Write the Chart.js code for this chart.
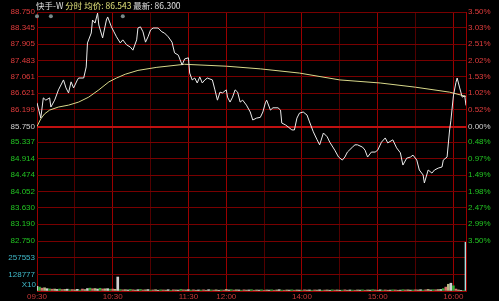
<!DOCTYPE html>
<html>
<head>
<meta charset="utf-8">
<script src="https://cdn.jsdelivr.net/npm/chart.js@4"></script>
<style>
  html, body { margin: 0; padding: 0; background: #000; }
  #wrap { position: relative; width: 499px; height: 301px; overflow: hidden; }
  canvas { position: absolute; left: 0; top: 0; }
  #title { position: absolute; left: 36px; top: -1px; font: 8.5px "Noto Sans CJK SC", sans-serif; line-height: 12px; color: #e0e0e0; white-space: nowrap; }
  #title .y { color: #e0e07a; }
  #x10 { position: absolute; left: 0; width: 36px; top: 280px; text-align: right; font: 8px "Liberation Sans", Arial, sans-serif; color: #40b8c8; }
</style>
</head>
<body>
<div id="wrap">
  <canvas id="vol" width="499" height="301"></canvas>
  <canvas id="price" width="499" height="301"></canvas>
  <div id="title">快手-W <span class="y">分时 均价: 86.543</span> 最新: 86.300</div>
  <div id="x10">X10</div>
</div>
<script>
const preClose = 85.75;
const priceTicks = [88.750, 88.345, 87.905, 87.483, 87.061, 86.621, 86.199, 85.750, 85.337, 84.914, 84.474, 84.052, 83.630, 83.190, 82.750];
const pctLabels = ['3.50%', '3.03%', '2.51%', '2.02%', '1.53%', '1.02%', '0.52%', '0.00%', '0.48%', '0.97%', '1.49%', '1.98%', '2.47%', '2.99%', '3.50%'];

// minutes from 09:30 (lunch break removed)
const gridMinutes = [0, 30, 60, 90, 120, 150, 180, 210, 240, 270, 300, 330, 340];
const hourMinutes = [0, 60, 120, 150, 210, 270, 330, 340];
const timeTicks = [0, 60, 120, 150, 210, 270, 330];
const timeLabels = ['09:30', '10:30', '11:30', '12:00', '14:00', '15:00', '16:00'];

const priceMinutes = [0, 3, 5, 7, 10, 11, 14, 17, 21, 23, 25, 27, 29, 32, 33, 37, 39, 40, 43, 44, 46, 48, 49, 52, 55, 56, 59, 61, 63, 66, 68, 71, 74, 76, 79, 80, 82, 84, 86, 88, 90, 92, 96, 99, 101, 104, 107, 109, 112, 115, 117, 120, 121, 123, 125, 127, 129, 131, 133, 135, 139, 141, 143, 145, 147, 150, 151, 153, 155, 157, 159, 161, 163, 166, 169, 171, 174, 177, 179, 181, 182, 185, 187, 191, 193, 194, 197, 199, 202, 204, 206, 208, 211, 214, 216, 219, 222, 224, 227, 230, 232, 236, 239, 242, 244, 246, 250, 252, 254, 258, 260, 262, 265, 268, 270, 273, 276, 278, 282, 285, 288, 290, 293, 296, 298, 301, 303, 306, 307, 310, 313, 315, 318, 321, 322, 325, 327, 328, 330, 332, 333, 335, 337, 339, 340];
const priceValues = [86.37, 85.97, 86.50, 86.44, 86.50, 86.26, 86.44, 86.71, 86.97, 86.76, 86.63, 86.92, 86.76, 86.97, 87.02, 87.02, 87.31, 87.94, 88.20, 88.54, 88.46, 88.72, 88.41, 88.07, 88.54, 88.62, 88.36, 88.23, 88.10, 87.94, 88.02, 87.89, 87.83, 87.75, 88.02, 88.33, 88.36, 88.23, 87.96, 88.10, 88.28, 88.33, 88.33, 88.23, 88.20, 88.10, 87.96, 87.68, 87.62, 87.36, 87.52, 87.55, 87.15, 86.97, 87.02, 86.89, 87.05, 86.89, 86.97, 87.02, 86.97, 86.71, 86.44, 86.65, 86.63, 86.71, 86.52, 86.39, 86.52, 86.71, 86.65, 86.39, 86.44, 86.31, 86.13, 85.92, 85.97, 85.99, 86.13, 86.37, 86.44, 86.18, 86.24, 86.24, 86.18, 85.84, 85.79, 85.74, 85.66, 85.66, 85.97, 86.10, 86.13, 86.05, 85.87, 85.61, 85.40, 85.27, 85.58, 85.48, 85.34, 85.13, 84.95, 84.87, 84.95, 85.08, 85.21, 85.27, 85.27, 85.21, 85.13, 84.95, 85.08, 85.08, 85.13, 85.34, 85.45, 85.32, 85.40, 85.19, 85.06, 84.74, 84.92, 84.95, 85.00, 84.87, 84.61, 84.48, 84.27, 84.61, 84.53, 84.61, 84.66, 84.69, 84.87, 84.95, 85.66, 85.90, 86.55, 86.90, 87.02, 86.76, 86.52, 86.55, 86.30];

const avgMinutes = [0, 3, 6, 10, 17, 25, 33, 41, 49, 57, 63, 70, 80, 95, 117, 150, 177, 208, 240, 272, 300, 327, 340];
const avgValues = [85.75, 85.95, 86.08, 86.18, 86.26, 86.31, 86.39, 86.52, 86.71, 86.92, 87.02, 87.12, 87.22, 87.30, 87.38, 87.33, 87.26, 87.15, 86.97, 86.89, 86.78, 86.65, 86.54];

const markerMinutes = [0, 11, 68];
const markerPrice = 88.64;

const volTicks = [0, 128777, 257553, 386330];
const volLabels = ['', '128777', '257553', ''];
// one value every 2 minutes, 09:30 .. 16:10
const volume = [
  37000, 30000, 22000, 25000, 18000, 16000, 14000, 15000, 12000, 15000,
  11000, 12000, 14000, 10000, 11000, 9000, 13000, 8000, 15000, 11000,
  19000, 22000, 17000, 19000, 15000, 21000, 16000, 17000, 18000, 14000,
  15000, 13000, 108000, 11000, 9000, 10000, 8000, 12000, 9000, 7000,
  10000, 12000, 8000, 9000, 11000, 7000, 8000, 10000, 6000, 9000,
  8000, 7000, 10000, 6000, 9000, 8000, 7000, 12000, 9000, 8000,
  10000, 7000, 9000, 6000, 8000, 7000, 9000, 6000, 10000, 8000,
  7000, 9000, 6000, 8000, 7000, 12000, 8000, 10000, 7000, 9000,
  8000, 6000, 9000, 7000, 8000, 10000, 6000, 8000, 7000, 9000,
  6000, 8000, 7000, 9000, 6000, 8000, 10000, 7000, 6000, 8000,
  7000, 9000, 6000, 8000, 7000, 6000, 9000, 7000, 8000, 6000,
  8000, 7000, 9000, 6000, 7000, 8000, 6000, 9000, 7000, 8000,
  6000, 7000, 9000, 6000, 8000, 7000, 6000, 8000, 7000, 9000,
  6000, 8000, 7000, 10000, 8000, 6000, 9000, 7000, 8000, 6000,
  7000, 9000, 8000, 6000, 7000, 10000, 8000, 9000, 7000, 8000,
  9000, 8000, 10000, 7000, 9000, 12000, 8000, 10000, 9000, 11000,
  12000, 18000, 30000, 52000, 60000, 40000, 15000, 8000, 5000, 4000,
  383000
];

const RED = '#e03c3c', GREEN = '#22c422', WHITE = '#d0d0d0';
const FONT = { family: '"Liberation Sans", Arial, sans-serif', size: 8 };
const barColors = ['#d0d0d0', '#38b038', '#d87070', '#b8b880'];

function labelColor(v) {
  if (Math.abs(v - preClose) < 1e-6) return WHITE;
  return v > preClose ? RED : GREEN;
}
function xGridColor(ctx) {
  if (!ctx.tick) return '#9a0000';
  return hourMinutes.includes(ctx.tick.value) ? '#9a0000' : '#520000';
}

new Chart(document.getElementById('price'), {
  type: 'line',
  data: {
    datasets: [
      {
        data: priceMinutes.map((m, i) => ({ x: m, y: priceValues[i] })),
        borderColor: '#ececec', borderWidth: 1, pointRadius: 0, tension: 0
      },
      {
        data: avgMinutes.map((m, i) => ({ x: m, y: avgValues[i] })),
        borderColor: '#d8d88a', borderWidth: 1, pointRadius: 0, tension: 0
      },
      {
        type: 'scatter',
        data: markerMinutes.map(m => ({ x: m, y: markerPrice })),
        pointRadius: 2, backgroundColor: '#7a8888', borderWidth: 0, clip: false
      }
    ]
  },
  options: {
    responsive: false,
    animation: false,
    events: [],
    layout: { padding: { top: 12, bottom: 60, left: 0, right: 0 } },
    plugins: { legend: { display: false }, tooltip: { enabled: false } },
    scales: {
      x: {
        type: 'linear', min: 0, max: 340,
        afterBuildTicks: s => { s.ticks = gridMinutes.map(v => ({ value: v })); },
        afterFit: s => { s.height = 0; },
        ticks: { display: false },
        grid: { color: xGridColor, drawTicks: false },
        border: { display: false }
      },
      y: {
        position: 'left', min: 82.75, max: 88.75,
        afterBuildTicks: s => { s.ticks = priceTicks.map(v => ({ value: v })); },
        afterFit: s => { s.width = 37; },
        ticks: {
          callback: (v, i) => priceTicks[i].toFixed(3),
          color: ctx => labelColor(ctx.tick.value),
          font: FONT, padding: 2
        },
        grid: {
          color: ctx => ctx.tick && Math.abs(ctx.tick.value - preClose) < 1e-6 ? '#c01010' : '#780000',
          lineWidth: ctx => ctx.tick && Math.abs(ctx.tick.value - preClose) < 1e-6 ? 2 : 1,
          drawTicks: false
        },
        border: { display: false }
      },
      yr: {
        position: 'right', min: 82.75, max: 88.75,
        afterBuildTicks: s => { s.ticks = priceTicks.map(v => ({ value: v })); },
        afterFit: s => { s.width = 33; },
        ticks: {
          callback: (v, i) => pctLabels[i],
          color: ctx => labelColor(ctx.tick.value),
          font: FONT, padding: 2
        },
        grid: { display: false, drawTicks: false },
        border: { display: false }
      }
    }
  }
});

new Chart(document.getElementById('vol'), {
  type: 'bar',
  data: {
    datasets: [{
      data: volume.map((v, i) => ({ x: i * 2, y: v })),
      backgroundColor: ctx => ctx.dataIndex === volume.length - 1 ? '#a8e0e0' : barColors[ctx.dataIndex % barColors.length],
      barThickness: 2,
      borderWidth: 0
    }]
  },
  options: {
    responsive: false,
    animation: false,
    events: [],
    layout: { padding: { top: 241, bottom: 0, left: 0, right: 33 } },
    plugins: { legend: { display: false }, tooltip: { enabled: false } },
    scales: {
      x: {
        type: 'linear', min: 0, max: 340, offset: false,
        afterBuildTicks: s => { s.ticks = gridMinutes.map(v => ({ value: v })); },
        afterFit: s => { s.height = 10; },
        ticks: {
          autoSkip: false, maxRotation: 0, padding: 1,
          callback: v => { const k = timeTicks.indexOf(v); return k >= 0 ? timeLabels[k] : ''; },
          color: '#c83838', font: FONT
        },
        grid: { color: xGridColor, drawTicks: false, offset: false },
        border: { display: true, color: '#9a0000' }
      },
      y: {
        position: 'left', min: 0, max: 386330,
        afterBuildTicks: s => { s.ticks = volTicks.map(v => ({ value: v })); },
        afterFit: s => { s.width = 37; },
        ticks: {
          callback: (v, i) => volLabels[i],
          color: '#40b8c8', font: FONT, padding: 2
        },
        grid: { color: '#780000', drawTicks: false },
        border: { display: false }
      }
    }
  }
});
</script>
</body>
</html>
